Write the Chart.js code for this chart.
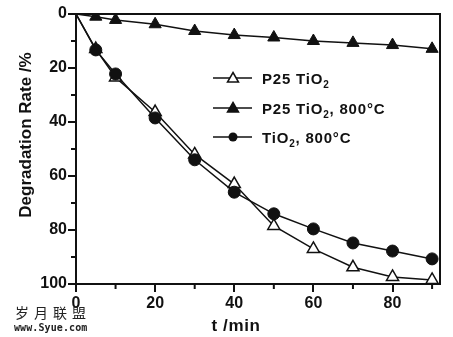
<!DOCTYPE html>
<html lang="en">
<head>
  <meta charset="UTF-8">
  <title>Degradation Rate</title>
  <script src="https://cdn.jsdelivr.net/npm/chart.js"></script>
  <style>
    body {
      margin: 0;
      background: #fff;
    }
    .wrap {
      position: relative;
      width: 453px;
      height: 337px;
    }
    .mark1 {
      position: absolute;
      left: 15px;
      top: 302px;
      font: 14px "Noto Sans CJK SC", sans-serif;
      letter-spacing: 5px;
      color: #222;
    }
    .mark2 {
      position: absolute;
      left: 14px;
      top: 322px;
      font: bold 10px "DejaVu Sans Mono", monospace;
      letter-spacing: 0.1px;
      color: #222;
    }
  </style>
</head>
<body>
  <div class="wrap">
    <canvas id="chart" width="453" height="337"></canvas>
    <div class="mark1">岁月联盟</div>
    <div class="mark2">www.Syue.com</div>
  </div>

  <script>
    // time points (min)
    const times = [0, 5, 10, 20, 30, 40, 50, 60, 70, 80, 90];
    // degradation rate (%) per series
    const p25 = [0, 13, 23.5, 36.3, 52, 63, 78.5, 87, 93.8, 97.4, 98.5];
    const p25at800 = [0, 1, 2.2, 3.8, 6.3, 7.8, 8.7, 10, 10.7, 11.5, 12.9];
    const tio2at800 = [0, 13.3, 22.2, 38.5, 54, 66, 74, 79.6, 84.8, 87.8, 90.7];

    const xTicks = [0, 20, 40, 60, 80];
    const xMinor = [10, 30, 50, 70, 90];
    const yMinor = [10, 30, 50, 70, 90];

    const legendItems = [
      { pre: 'P25 TiO', post: '', style: 'open' },
      { pre: 'P25 TiO', post: ', 800°C', style: 'tri' },
      { pre: 'TiO', post: ', 800°C', style: 'circle' }
    ];

    const toPoints = arr => times.map((t, i) => ({ x: t, y: arr[i] }));
    // the marker at t = 0 is hidden under the axes in the original
    const radiusFor = r => ctx => ctx.dataIndex === 0 ? 0 : r;

    const decor = {
      id: 'decor',
      afterDraw(chart) {
        const { ctx, chartArea: a, scales: { x, y } } = chart;
        ctx.save();
        ctx.strokeStyle = '#111';
        ctx.lineWidth = 2;
        ctx.strokeRect(a.left, a.top, a.right - a.left, a.bottom - a.top);

        // minor ticks
        ctx.beginPath();
        xMinor.forEach(v => {
          const px = x.getPixelForValue(v);
          ctx.moveTo(px, a.bottom);
          ctx.lineTo(px, a.bottom + 5);
        });
        yMinor.forEach(v => {
          const py = y.getPixelForValue(v);
          ctx.moveTo(a.left - 5, py);
          ctx.lineTo(a.left, py);
        });
        ctx.stroke();

        // axis titles
        ctx.fillStyle = '#111';
        ctx.font = 'bold 17px "Liberation Sans", Arial, sans-serif';
        ctx.letterSpacing = '0.6px';
        ctx.textAlign = 'center';
        ctx.textBaseline = 'alphabetic';
        ctx.fillText('t /min', 236, 331);
        ctx.letterSpacing = '0px';
        ctx.save();
        ctx.translate(31, 135);
        ctx.rotate(-Math.PI / 2);
        ctx.fillText('Degradation Rate /%', 0, 0);
        ctx.restore();

        // legend
        ctx.textAlign = 'left';
        const rows = [78, 108, 137];
        legendItems.forEach((item, i) => {
          const ly = rows[i];
          ctx.lineWidth = 1.5;
          ctx.beginPath();
          ctx.moveTo(213, ly);
          ctx.lineTo(252, ly);
          ctx.stroke();
          ctx.beginPath();
          if (item.style === 'circle') {
            ctx.arc(233, ly, 4.5, 0, Math.PI * 2);
            ctx.fillStyle = '#111';
            ctx.fill();
          } else {
            ctx.moveTo(233, ly - 5.5);
            ctx.lineTo(238.5, ly + 4);
            ctx.lineTo(227.5, ly + 4);
            ctx.closePath();
            ctx.fillStyle = item.style === 'open' ? '#fff' : '#111';
            ctx.fill();
            ctx.stroke();
          }
          ctx.fillStyle = '#111';
          ctx.font = 'bold 15px "Liberation Sans", Arial, sans-serif';
          ctx.letterSpacing = '0.8px';
          let tx = 262;
          const by = ly + 6;
          ctx.fillText(item.pre, tx, by);
          tx += ctx.measureText(item.pre).width;
          ctx.font = 'bold 10px "Liberation Sans", Arial, sans-serif';
          ctx.fillText('2', tx, by + 4);
          tx += ctx.measureText('2').width;
          ctx.font = 'bold 15px "Liberation Sans", Arial, sans-serif';
          ctx.fillText(item.post, tx, by);
        });
        ctx.restore();
      }
    };

    const tickFont = { family: '"Liberation Sans", Arial, sans-serif', size: 16, weight: 'bold' };

    new Chart(document.getElementById('chart').getContext('2d'), {
      type: 'line',
      data: {
        datasets: [
          {
            label: 'TiO2, 800°C',
            data: toPoints(tio2at800),
            borderColor: '#111',
            backgroundColor: '#111',
            borderWidth: 1.5,
            pointStyle: 'circle',
            pointRadius: radiusFor(6),
            pointBorderWidth: 1,
            order: 0
          },
          {
            label: 'P25 TiO2',
            data: toPoints(p25),
            borderColor: '#111',
            backgroundColor: '#fff',
            borderWidth: 1.5,
            pointStyle: 'triangle',
            pointRadius: radiusFor(7),
            pointBorderWidth: 1.5,
            order: 1
          },
          {
            label: 'P25 TiO2, 800°C',
            data: toPoints(p25at800),
            borderColor: '#111',
            backgroundColor: '#111',
            borderWidth: 1.5,
            pointStyle: 'triangle',
            pointRadius: radiusFor(7),
            pointBorderWidth: 1,
            order: 2
          }
        ]
      },
      options: {
        responsive: false,
        animation: false,
        layout: { padding: { left: 0, right: 13, top: 14, bottom: 0 } },
        plugins: {
          legend: { display: false },
          tooltip: { enabled: false }
        },
        scales: {
          x: {
            type: 'linear',
            min: 0,
            max: 92,
            afterBuildTicks: s => { s.ticks = xTicks.map(v => ({ value: v })); },
            afterFit: s => { s.height = 53; },
            ticks: { color: '#111', font: tickFont, padding: 2, maxRotation: 0 },
            grid: { drawOnChartArea: false, tickLength: 8, color: '#111', lineWidth: 2 },
            border: { color: '#111', width: 2 }
          },
          y: {
            reverse: true,
            min: 0,
            max: 100,
            ticks: { stepSize: 20, color: '#111', font: tickFont, padding: 1 },
            afterFit: s => { s.width = 76; },
            grid: { drawOnChartArea: false, tickLength: 8, color: '#111', lineWidth: 2 },
            border: { color: '#111', width: 2 }
          }
        }
      },
      plugins: [decor]
    });
  </script>
</body>
</html>
